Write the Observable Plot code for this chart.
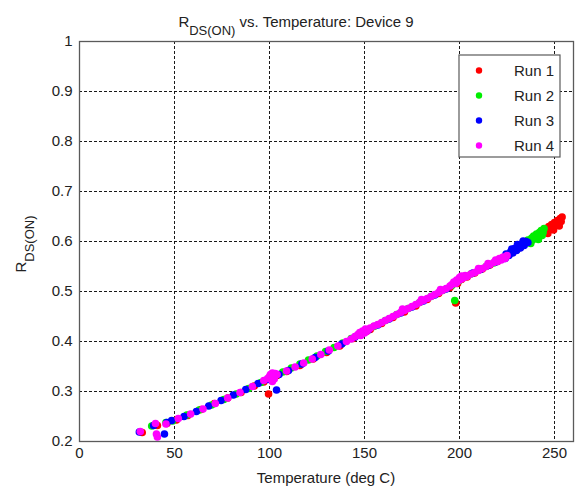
<!DOCTYPE html>
<html>
<head>
<meta charset="utf-8">
<script src="https://cdn.jsdelivr.net/npm/d3@7"></script>
<script src="https://cdn.jsdelivr.net/npm/@observablehq/plot@0.6"></script>
<style>
  html, body { margin: 0; padding: 0; background: #fff; }
  #chart { width: 575px; height: 491px; }
  svg { font-family: "Liberation Sans", Arial, sans-serif; }
</style>
</head>
<body>
<div id="chart"></div>
<script>
// ---- data ----
const runNames = ["Run 1", "Run 2", "Run 3", "Run 4"];
const runColors = ["#ff0000", "#00ee00", "#0000ff", "#ff00ff"];

const xTicks = [0, 50, 100, 150, 200, 250];
const yTicks = [0.2, 0.3, 0.4, 0.5, 0.6, 0.7, 0.8, 0.9, 1];

const run1T = [33, 41, 46, 51, 57, 64, 71, 78, 85, 92, 97, 99.5, 101, 104, 109, 116, 123, 130, 137, 144, 148, 151, 153, 159, 165, 171, 177, 183, 189, 195, 198, 199, 201, 204, 208, 212, 216, 220, 224, 228, 232, 236, 240, 243, 244.5, 245.5, 246, 247, 247.5, 248.5, 249, 250, 250.5, 251.5, 252, 253, 253.5, 254, 246.5, 249.5, 252.5];
const run1R = [0.218, 0.232, 0.236, 0.243, 0.252, 0.264, 0.276, 0.287, 0.298, 0.311, 0.319, 0.295, 0.328, 0.332, 0.340, 0.352, 0.365, 0.378, 0.391, 0.406, 0.414, 0.420, 0.424, 0.436, 0.448, 0.459, 0.471, 0.484, 0.496, 0.508, 0.477, 0.516, 0.524, 0.529, 0.537, 0.545, 0.553, 0.560, 0.568, 0.578, 0.588, 0.598, 0.608, 0.615, 0.618, 0.626, 0.620, 0.630, 0.624, 0.634, 0.628, 0.638, 0.632, 0.642, 0.636, 0.646, 0.640, 0.649, 0.616, 0.623, 0.631];

const run2T = [38, 45.5, 49, 56.5, 63, 69.5, 76, 82.5, 89, 95.5, 100, 102, 107, 111.5, 116, 120.5, 125, 129.5, 134, 138.5, 143, 147, 150, 155, 161, 167, 173, 179, 185, 191, 196, 197.5, 199.5, 202, 206, 210, 214, 218, 222, 226, 230, 233, 235, 236, 237, 238, 238.5, 239, 240, 240.5, 241, 242, 242.5, 243, 244, 244.5, 237.5, 241.5, 243.5];
const run2R = [0.231, 0.238, 0.241, 0.253, 0.263, 0.273, 0.284, 0.295, 0.306, 0.318, 0.327, 0.331, 0.339, 0.347, 0.355, 0.363, 0.371, 0.380, 0.388, 0.397, 0.406, 0.414, 0.420, 0.430, 0.442, 0.454, 0.466, 0.478, 0.490, 0.502, 0.512, 0.482, 0.521, 0.528, 0.535, 0.543, 0.550, 0.557, 0.565, 0.574, 0.583, 0.592, 0.597, 0.603, 0.599, 0.607, 0.603, 0.611, 0.607, 0.615, 0.611, 0.618, 0.614, 0.622, 0.618, 0.626, 0.596, 0.604, 0.612];

const run3T = [31.5, 39, 44.7, 46, 48.5, 55, 61.5, 68, 74.5, 81, 87.5, 94, 99, 101, 103.7, 105, 110, 117, 124, 131, 138, 145, 149, 152, 157, 163, 169, 175, 181, 187, 193, 198, 200.5, 203, 207, 211, 215, 219, 222, 224, 225, 226, 227, 228, 229, 230, 231, 232, 233, 234, 235, 236, 224.5, 227.5, 230.5, 233.5];
const run3R = [0.219, 0.232, 0.215, 0.238, 0.242, 0.250, 0.260, 0.271, 0.282, 0.293, 0.304, 0.316, 0.324, 0.329, 0.303, 0.334, 0.342, 0.355, 0.368, 0.381, 0.395, 0.409, 0.417, 0.423, 0.433, 0.445, 0.457, 0.469, 0.481, 0.493, 0.505, 0.518, 0.526, 0.530, 0.537, 0.544, 0.552, 0.559, 0.566, 0.566, 0.574, 0.572, 0.580, 0.577, 0.586, 0.582, 0.591, 0.587, 0.596, 0.592, 0.600, 0.598, 0.575, 0.585, 0.594, 0.601];

const run4T = [32, 40, 40.5, 41, 45.5, 52, 58.5, 65, 71.5, 78, 84.5, 91, 97, 99, 100, 100.5, 101, 101.5, 102, 103, 104, 102.5, 101.5, 109, 113.5, 118, 122.5, 127, 131.5, 136, 140.5, 143, 145, 146.5, 147.5, 148, 149, 150, 150.5, 151, 152, 153, 155, 157, 159, 161, 163, 165, 167, 169, 171, 173, 175, 177, 179, 181, 183, 185, 187, 189, 191, 193, 195, 196, 197, 198, 198.5, 199, 200, 200.5, 201, 202, 203, 204, 206, 208, 210, 212, 214, 216, 218, 219, 220, 221, 222, 223, 224, 225, 170, 180, 190, 210, 215];
const run4R = [0.220, 0.236, 0.215, 0.209, 0.235, 0.246, 0.255, 0.265, 0.276, 0.287, 0.298, 0.310, 0.322, 0.326, 0.330, 0.334, 0.328, 0.337, 0.332, 0.336, 0.334, 0.325, 0.320, 0.341, 0.349, 0.357, 0.365, 0.374, 0.383, 0.391, 0.400, 0.405, 0.410, 0.414, 0.418, 0.412, 0.421, 0.417, 0.425, 0.420, 0.424, 0.427, 0.431, 0.434, 0.438, 0.442, 0.446, 0.450, 0.454, 0.458, 0.462, 0.466, 0.470, 0.474, 0.478, 0.482, 0.486, 0.490, 0.494, 0.498, 0.502, 0.506, 0.511, 0.514, 0.519, 0.516, 0.523, 0.520, 0.528, 0.524, 0.531, 0.527, 0.532, 0.530, 0.535, 0.538, 0.542, 0.546, 0.550, 0.554, 0.558, 0.563, 0.560, 0.566, 0.563, 0.569, 0.566, 0.572, 0.465, 0.484, 0.504, 0.546, 0.556];

// ---- build table ----
const runsT = [run1T, run2T, run3T, run4T];
const runsR = [run1R, run2R, run3R, run4R];
const points = [];
runsT.forEach((ts, i) => ts.forEach((t, j) => points.push({T: t, R: runsR[i][j], run: runNames[i]})));

const W = 575, H = 491;
const grid = {stroke: "#000", strokeWidth: 1, strokeDasharray: "3,2", strokeOpacity: 0.9};
const fmt = d => String(+d.toFixed(1));

const plot = Plot.plot({
  width: W, height: H,
  marginLeft: 79, marginRight: 2, marginTop: 41, marginBottom: 50,
  style: {fontFamily: "'Liberation Sans', Arial, sans-serif", fontSize: "15px", color: "#222", background: "#fff"},
  x: {domain: [0, 260]},
  y: {domain: [0.2, 1]},
  color: {domain: runNames, range: runColors},
  marks: [
    Plot.ruleX(xTicks.filter(d => d > 0), {...grid}),
    Plot.ruleY(yTicks.filter(d => d > 0.2 && d < 1), {...grid}),
    Plot.dot(points, {x: "T", y: "R", fill: "run", r: 3.8, stroke: null}),
    Plot.frame({stroke: "#5a5a5a", strokeWidth: 1.3}),
    Plot.axisX(xTicks, {tickSize: 0, tickPadding: 6, label: null, tickFormat: fmt, fontSize: 15, fill: "#222"}),
    Plot.axisY(yTicks, {tickSize: 0, tickPadding: 7, label: null, tickFormat: fmt, fontSize: 15, fill: "#222"})
  ]
});

document.getElementById("chart").appendChild(plot);

// ---- titles and legend (text / decorations) ----
const svg = d3.select(plot);
const font = "'Liberation Sans', Arial, sans-serif";

const title = svg.append("text")
  .attr("x", 296).attr("y", 27)
  .attr("text-anchor", "middle")
  .attr("font-family", font).attr("font-size", 15).attr("fill", "#222");
title.append("tspan").text("R");
title.append("tspan").attr("dy", 8).attr("font-size", 13).text("DS(ON)");
title.append("tspan").attr("dy", -8).text(" vs. Temperature: Device 9");

svg.append("text")
  .attr("x", 326).attr("y", 483)
  .attr("text-anchor", "middle")
  .attr("font-family", font).attr("font-size", 15).attr("fill", "#222")
  .text("Temperature (deg C)");

const ylab = svg.append("text")
  .attr("transform", "translate(26,244) rotate(-90)")
  .attr("text-anchor", "middle")
  .attr("font-family", font).attr("font-size", 15).attr("fill", "#222");
ylab.append("tspan").text("R");
ylab.append("tspan").attr("dy", 8).attr("font-size", 13).text("DS(ON)");

const lg = svg.append("g");
lg.append("rect").attr("x", 459).attr("y", 55).attr("width", 101).attr("height", 102)
  .attr("fill", "#fff").attr("stroke", "#5a5a5a").attr("stroke-width", 1.2);
runNames.forEach((name, i) => {
  const cy = 70.5 + i * 25;
  lg.append("circle").attr("cx", 479).attr("cy", cy).attr("r", 3.2).attr("fill", runColors[i]);
  lg.append("text").attr("x", 554).attr("y", cy + 5.5).attr("text-anchor", "end")
    .attr("font-family", font).attr("font-size", 15).attr("fill", "#222").text(name);
});
</script>
</body>
</html>
